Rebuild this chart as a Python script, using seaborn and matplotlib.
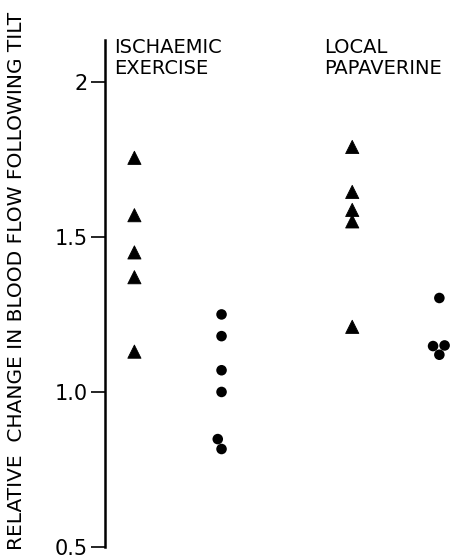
import pandas as pd
import matplotlib
matplotlib.use('Agg')
import matplotlib.pyplot as plt
import seaborn as sns

# ── DATA ─────────────────────────────────────────────────────────────
groups = ['ISCHAEMIC\nEXERCISE', 'LOCAL\nPAPAVERINE']
kinds  = ['triangle', 'circle']

ischaemic_tri = [1.755, 1.57, 1.45, 1.37, 1.13]
ischaemic_dot = [1.25, 1.18, 1.07, 1.00, 0.848, 0.816]
papaverine_tri = [1.79, 1.645, 1.587, 1.55, 1.21]
papaverine_dot = [1.303, 1.15, 1.148, 1.12]

yticks      = [0.5, 1.0, 1.5, 2.0]
ytick_texts = ['0.5', '1.0', '1.5', '2']

rows = []
for g, vals, k in [(groups[0], ischaemic_tri, 'triangle'),
                   (groups[0], ischaemic_dot, 'circle'),
                   (groups[1], papaverine_tri, 'triangle'),
                   (groups[1], papaverine_dot, 'circle')]:
    for v in vals:
        rows.append({'group': g, 'kind': k, 'change': v})
df = pd.DataFrame(rows)

# ── PLOT ─────────────────────────────────────────────────────────────
sns.set_style('white')
plt.rcParams['font.family'] = ['DejaVu Sans']
plt.rcParams['text.color'] = 'black'
plt.rcParams['ytick.color'] = 'black'
plt.rcParams['axes.labelcolor'] = 'black'

fig = plt.figure(figsize=(4.52, 5.6), dpi=100)
ax = fig.add_axes([0.2323, 0.0232, 0.7677, 0.9054])

black = {'triangle': 'black', 'circle': 'black'}

# triangles: plain strip, no jitter
sns.stripplot(data=df[df['kind'] == 'triangle'], x='group', y='change',
              hue='kind', hue_order=kinds, order=groups, palette=black,
              dodge=True, jitter=False, marker='^', size=9.5,
              linewidth=0.6, edgecolor='black', legend=False, ax=ax)

# circles: swarm so touching points spread sideways
sns.swarmplot(data=df[df['kind'] == 'circle'], x='group', y='change',
              hue='kind', hue_order=kinds, order=groups, palette=black,
              dodge=True, marker='o', size=7.6, linewidth=0,
              legend=False, ax=ax)

ax.set_xlim(-0.335, 1.258)
ax.set_ylim(0.5, 2.135)

# group headings sit inside the axes at the top, left of each pair
heading_shift = [-0.295, -0.33]
for i, g in enumerate(groups):
    ax.text(i + heading_shift[i], 2.14, g, ha='left', va='top',
            fontsize=14, linespacing=1.1)

ax.set_yticks(yticks)
ax.set_yticklabels(ytick_texts, fontsize=15)
ax.set_xticks([])
ax.set_xlabel('')
ax.set_ylabel('RELATIVE  CHANGE IN BLOOD FLOW FOLLOWING TILT', fontsize=14.5)
ax.yaxis.set_label_coords(-0.228, 0.525)

sns.despine(ax=ax, top=True, right=True, bottom=True)
ax.spines['left'].set_linewidth(1.8)
ax.spines['left'].set_color('black')
ax.tick_params(axis='y', direction='out', length=10, width=1.2,
               color='black', pad=2.5, left=True)

plt.savefig('out.png', dpi=100)
